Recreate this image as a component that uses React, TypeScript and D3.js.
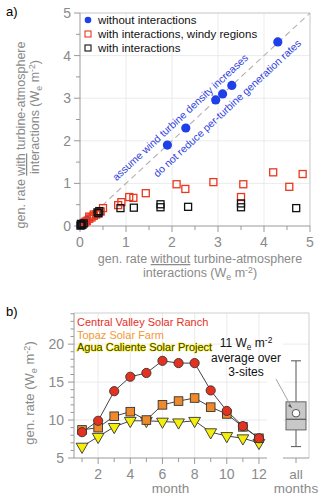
import React from "react";
import * as d3 from "d3";

// ---------- Panel a data ----------
const blueX = [0.05, 0.15, 1.9, 2.3, 2.95, 3.1, 3.3, 4.3];
const blueY = [0.05, 0.13, 1.9, 2.3, 2.96, 3.1, 3.3, 4.32];

const redX = [0.05, 0.1, 0.12, 0.15, 0.2, 0.2, 0.25, 0.3, 0.3, 0.35, 0.4, 0.45, 0.5, 0.83, 0.9, 1.07, 1.16, 1.43, 2.1, 2.29, 2.9, 3.5, 3.55, 4.2, 4.55, 4.84];
const redY = [0.04, 0.08, 0.1, 0.12, 0.17, 0.22, 0.2, 0.24, 0.27, 0.27, 0.3, 0.34, 0.42, 0.49, 0.56, 0.68, 0.66, 0.77, 0.98, 0.87, 1.03, 0.68, 0.98, 1.26, 0.92, 1.22];

const blackX = [0.01, 0.02, 0.03, 0.05, 0.08, 0.38, 0.4, 0.42, 0.88, 1.17, 1.75, 1.75, 2.35, 3.5, 3.5, 4.7];
const blackY = [0.01, 0.05, 0.02, 0.03, 0.06, 0.32, 0.3, 0.35, 0.42, 0.43, 0.51, 0.44, 0.45, 0.53, 0.44, 0.42];

const aTicks = [0, 1, 2, 3, 4, 5];

// ---------- Panel b data ----------
const months = [1, 2, 3, 4, 5, 6, 7, 8, 9, 10, 11, 12];
const centralValley = [8.4, 9.9, 13.8, 15.7, 16.2, 17.8, 17.5, 17.5, 13.9, 11.2, 9.2, 7.6];
const topaz = [8.7, 9.0, 10.5, 11.1, 10.0, 12.0, 12.5, 12.9, 11.7, 10.8, 9.1, 7.6];
const aguaCaliente = [6.5, 7.8, 9.1, 9.9, 9.9, 9.8, 9.7, 9.9, 8.4, 7.9, 7.6, 7.0];
const bTicksY = [5, 10, 15, 20];
const bTicksX = [2, 4, 6, 8, 10, 12];
const boxStats = { min: 6.5, q1: 8.7, median: 10.1, q3: 12.4, max: 17.8, mean: 10.9 };

const FONT = "'Liberation Sans', Arial, Helvetica, sans-serif";
const GRAY = "#8a8a8a";
const AXIS = "#9a9a9a";
const GRID = "#e6e6e6";

function Unit({ dyUp = -4 }: { dyUp?: number }) {
  return (
    <>
      <tspan>(W</tspan>
      <tspan dy={3} fontSize="0.7em">e</tspan>
      <tspan dy={-3}> m</tspan>
      <tspan dy={dyUp} fontSize="0.7em">-2</tspan>
      <tspan dy={-dyUp}>)</tspan>
    </>
  );
}

export default function App() {
  // Panel a scales
  const xa = d3.scaleLinear().domain([0, 5]).range([80, 310]);
  const ya = d3.scaleLinear().domain([0, 5]).range([226, 13]);
  const halfs = d3.range(0, 5.01, 0.5);

  // Panel b scales
  const xb = d3.scaleLinear().domain([0.5, 12.5]).range([74, 267]);
  const yb = d3.scaleLinear().domain([5, 24.1]).range([458, 313]);
  const xbox = d3.scaleLinear().domain([0, 1]).range([283, 309]);
  const minorB = d3.range(5, 24.01, 1);

  const line = (vals: number[]) =>
    d3.line<number>().x((_, i) => xb(months[i])).y((v) => yb(v))(vals) || "";

  const angle = (-Math.atan((ya(0) - ya(1)) / (xa(1) - xa(0))) * 180) / Math.PI;
  const sq = 7;

  const tri = d3.symbol().type(d3.symbolTriangle).size(60)();

  return (
    <svg width={321} height={500} style={{ position: "absolute", left: 0, top: 0, background: "#fff" }} fontFamily={FONT}>
      {/* ===== Panel a ===== */}
      <text x={6} y={16} fontSize={13}>a)</text>
      {/* grid */}
      {aTicks.slice(1).map((t) => (
        <g key={"ga" + t}>
          <line x1={xa(t)} x2={xa(t)} y1={ya(0)} y2={ya(5)} stroke={GRID} strokeWidth={0.8} />
          <line x1={xa(0)} x2={xa(5)} y1={ya(t)} y2={ya(t)} stroke={GRID} strokeWidth={0.8} />
        </g>
      ))}
      {/* frame */}
      <line x1={xa(0)} x2={xa(5)} y1={ya(5)} y2={ya(5)} stroke="#cfcfcf" />
      <line x1={xa(5)} x2={xa(5)} y1={ya(0)} y2={ya(5)} stroke="#cfcfcf" />
      <line x1={xa(0)} x2={xa(0)} y1={ya(0)} y2={ya(5)} stroke={AXIS} />
      <line x1={xa(0)} x2={xa(5)} y1={ya(0)} y2={ya(0)} stroke={AXIS} />
      {halfs.map((t) => {
        const major = Math.abs(t - Math.round(t)) < 1e-6;
        return (
          <g key={"ta" + t}>
            <line x1={xa(0)} x2={xa(0) - (major ? 6 : 4)} y1={ya(t)} y2={ya(t)} stroke={AXIS} />
            <line x1={xa(t)} x2={xa(t)} y1={ya(0)} y2={ya(0) + (major ? 6 : 4)} stroke={AXIS} />
          </g>
        );
      })}
      {aTicks.map((t) => (
        <g key={"la" + t}>
          <text x={xa(0) - 9} y={ya(t) + 5} fontSize={14} fill={GRAY} textAnchor="end">{t}</text>
          <text x={xa(t)} y={ya(0) + 21} fontSize={14} fill={GRAY} textAnchor="middle">{t}</text>
        </g>
      ))}
      {/* diagonal */}
      <line x1={xa(0)} y1={ya(0)} x2={xa(5)} y2={ya(5)} stroke="#b8b0b0" strokeDasharray="6,4" strokeWidth={1.1} />
      {/* annotations */}
      <text transform={`translate(180,117) rotate(${angle})`} fontSize={10.5} fill="#2f3fe0" textAnchor="middle" dominantBaseline="central">
        assume wind turbine density increases
      </text>
      <text transform={`translate(227,108) rotate(${angle})`} fontSize={10.5} fill="#2f3fe0" textAnchor="middle" dominantBaseline="central">
        do not reduce per-turbine generation rates
      </text>
      {/* points */}
      {blueX.map((x, i) => (
        <circle key={"b" + i} cx={xa(x)} cy={ya(blueY[i])} r={4.6} fill="#1f3fe8" />
      ))}
      {redX.map((x, i) => (
        <rect key={"r" + i} x={xa(x) - sq / 2} y={ya(redY[i]) - sq / 2} width={sq} height={sq} fill="none" stroke="#e8381f" strokeWidth={1.3} />
      ))}
      {blackX.map((x, i) => (
        <rect key={"k" + i} x={xa(x) - sq / 2} y={ya(blackY[i]) - sq / 2} width={sq} height={sq} fill="none" stroke="#111" strokeWidth={1.3} />
      ))}
      {/* legend a */}
      <circle cx={88} cy={20} r={3.3} fill="#1f3fe8" />
      <text x={98} y={24} fontSize={11.5} fill="#111">without interactions</text>
      <rect x={85} y={31} width={6} height={6} fill="none" stroke="#e8381f" strokeWidth={1.1} />
      <text x={98} y={38} fontSize={11.5} fill="#111">with interactions, windy regions</text>
      <rect x={85} y={45} width={6} height={6} fill="none" stroke="#111" strokeWidth={1.1} />
      <text x={98} y={52} fontSize={11.5} fill="#111">with interactions</text>
      {/* axis labels a */}
      <text x={200} y={263} fontSize={12.5} fill={GRAY} textAnchor="middle">
        gen. rate <tspan textDecoration="underline">without</tspan> turbine-atmosphere
      </text>
      <text x={200} y={277} fontSize={12.5} fill={GRAY} textAnchor="middle">
        interactions <Unit />
      </text>
      <text transform="translate(25,135) rotate(-90)" fontSize={12.5} fill={GRAY} textAnchor="middle">
        gen. rate <tspan textDecoration="underline">with</tspan> turbine-atmosphere
      </text>
      <text transform="translate(39,117) rotate(-90)" fontSize={12.5} fill={GRAY} textAnchor="middle">
        interactions <Unit />
      </text>

      {/* ===== Panel b ===== */}
      <text x={6} y={316} fontSize={13}>b)</text>
      {/* grid */}
      {bTicksY.slice(1).map((t) => (
        <line key={"gby" + t} x1={xb(0.5)} x2={xb(12.5)} y1={yb(t)} y2={yb(t)} stroke={GRID} strokeWidth={0.8} />
      ))}
      {bTicksX.map((t) => (
        <line key={"gbx" + t} x1={xb(t)} x2={xb(t)} y1={yb(5)} y2={yb(24.1)} stroke={GRID} strokeWidth={0.8} />
      ))}
      {bTicksY.slice(1).map((t) => (
        <line key={"gbby" + t} x1={xbox(0)} x2={xbox(1)} y1={yb(t)} y2={yb(t)} stroke={GRID} strokeWidth={0.8} />
      ))}
      {/* frame */}
      <line x1={xb(0.5)} x2={xbox(1)} y1={yb(24.1)} y2={yb(24.1)} stroke="#cfcfcf" />
      <line x1={xbox(1)} x2={xbox(1)} y1={yb(24.1)} y2={yb(5)} stroke="#cfcfcf" />
      <line x1={xb(0.5)} x2={xb(0.5)} y1={yb(5)} y2={yb(24.1)} stroke={AXIS} />
      <line x1={xb(0.5)} x2={xb(12.5)} y1={yb(5)} y2={yb(5)} stroke={AXIS} />
      <line x1={xbox(0)} x2={xbox(1)} y1={yb(5)} y2={yb(5)} stroke={AXIS} />
      {minorB.map((t) => (
        <line key={"mb" + t} x1={xb(0.5)} x2={xb(0.5) - (t % 5 === 0 ? 6 : 3.5)} y1={yb(t)} y2={yb(t)} stroke={AXIS} />
      ))}
      {months.map((m) => (
        <line key={"tm" + m} x1={xb(m)} x2={xb(m)} y1={yb(5)} y2={yb(5) + (m % 2 === 0 ? 6 : 4)} stroke={AXIS} />
      ))}
      <line x1={xbox(0.5)} x2={xbox(0.5)} y1={yb(5)} y2={yb(5) + 5} stroke={AXIS} />
      {bTicksY.map((t) => (
        <text key={"lby" + t} x={xb(0.5) - 10} y={yb(t) + 5} fontSize={14} fill={GRAY} textAnchor="end">{t}</text>
      ))}
      {bTicksX.map((t) => (
        <text key={"lbx" + t} x={xb(t)} y={yb(5) + 21} fontSize={14} fill={GRAY} textAnchor="middle">{t}</text>
      ))}
      <text x={xb(6.5)} y={yb(5) + 35} fontSize={13.5} fill={GRAY} textAnchor="middle">month</text>
      <text x={xbox(0.5)} y={yb(5) + 21} fontSize={13.5} fill={GRAY} textAnchor="middle">all</text>
      <text x={xbox(0.5)} y={yb(5) + 35} fontSize={13.5} fill={GRAY} textAnchor="middle">months</text>
      <text transform="translate(34,393) rotate(-90)" fontSize={13} fill={GRAY} textAnchor="middle">
        gen. rate <Unit />
      </text>

      {/* lines */}
      <path d={line(centralValley)} fill="none" stroke="#444" strokeWidth={1} />
      <path d={line(topaz)} fill="none" stroke="#444" strokeWidth={1} />
      <path d={line(aguaCaliente)} fill="none" stroke="#444" strokeWidth={1} />
      {aguaCaliente.map((v, i) => (
        <path key={"ag" + i} d={tri} transform={`translate(${xb(months[i])},${yb(v)}) rotate(180)`} fill="#f4ef0a" stroke="#333" strokeWidth={0.9} />
      ))}
      {topaz.map((v, i) => (
        <rect key={"tp" + i} x={xb(months[i]) - 4.3} y={yb(v) - 4.3} width={8.6} height={8.6} fill="#f0892a" stroke="#333" strokeWidth={0.9} />
      ))}
      {centralValley.map((v, i) => (
        <circle key={"cv" + i} cx={xb(months[i])} cy={yb(v)} r={4.6} fill="#e5311f" stroke="#333" strokeWidth={0.9} />
      ))}

      {/* legend b */}
      <text x={77} y={326} fontSize={11} fill="#e5311f">Central Valley Solar Ranch</text>
      <text x={77} y={338.5} fontSize={11} fill="#f39a35">Topaz Solar Farm</text>
      <text x={77} y={351} fontSize={11} fill="#4a4400" stroke="#f2ee10" strokeWidth={1} paintOrder="stroke">Agua Caliente Solar Project</text>

      {/* box plot */}
      <line x1={xbox(0.5)} x2={xbox(0.5)} y1={yb(boxStats.max)} y2={yb(boxStats.min)} stroke="#555" />
      <line x1={xbox(0.5) - 5} x2={xbox(0.5) + 5} y1={yb(boxStats.max)} y2={yb(boxStats.max)} stroke="#555" />
      <line x1={xbox(0.5) - 5} x2={xbox(0.5) + 5} y1={yb(boxStats.min)} y2={yb(boxStats.min)} stroke="#555" />
      <rect x={xbox(0.5) - 10} y={yb(boxStats.q3)} width={20} height={yb(boxStats.q1) - yb(boxStats.q3)} fill="#c8c8c8" stroke="#666" />
      <line x1={xbox(0.5) - 10} x2={xbox(0.5) + 10} y1={yb(boxStats.median)} y2={yb(boxStats.median)} stroke="#555" strokeWidth={1.2} />
      <circle cx={xbox(0.5)} cy={yb(boxStats.mean)} r={3.8} fill="#fff" stroke="#555" />
      {/* annotation */}
      <line x1={276} y1={379} x2={292} y2={408} stroke="#999" strokeWidth={0.9} />
      <path d="M292,408 l-4,-2 l2,-2 z" fill="#555" />
      <text x={246} y={347} fontSize={12} fill="#111" textAnchor="middle">
        11 W<tspan dy={3} fontSize="0.7em">e</tspan><tspan dy={-3}> m</tspan><tspan dy={-4} fontSize="0.7em">-2</tspan>
      </text>
      <text x={246} y={362} fontSize={12} fill="#111" textAnchor="middle">average over</text>
      <text x={246} y={376} fontSize={12} fill="#111" textAnchor="middle">3-sites</text>
    </svg>
  );
}
